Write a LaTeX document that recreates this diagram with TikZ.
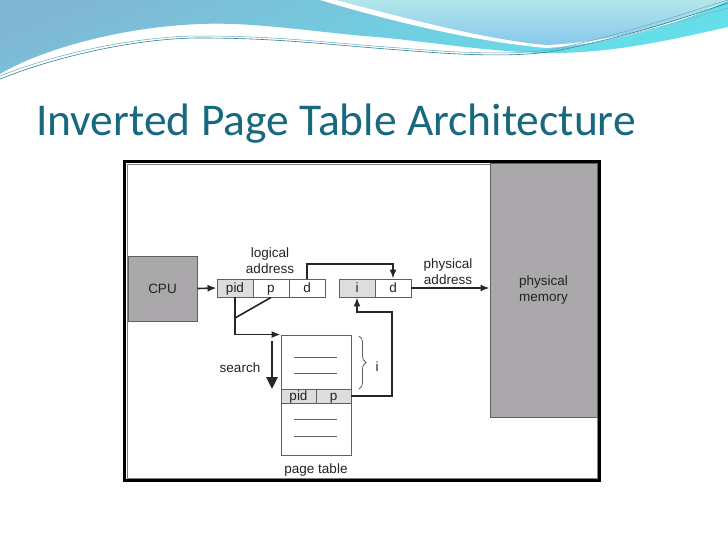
\documentclass[tikz,border=0pt]{standalone}
\usepackage{fontspec}
\setmainfont{Liberation Sans}
\newfontfamily\titlefont{Carlito}
\usetikzlibrary{arrows.meta,decorations.pathreplacing,calc}
\definecolor{titleteal}{RGB}{24,104,128}
\definecolor{boxgray}{RGB}{170,168,171}
\definecolor{cellgray}{RGB}{222,220,222}
\definecolor{edgegray}{RGB}{95,95,95}
\definecolor{txtgray}{RGB}{35,35,35}
\definecolor{wavetop}{RGB}{128,184,212}
\definecolor{wavebot}{RGB}{98,226,236}
\definecolor{lighttop}{RGB}{178,230,234}
\definecolor{lightbot}{RGB}{136,200,236}
\definecolor{waveline}{RGB}{40,130,150}
\tikzset{
  bigbox/.style={draw=edgegray,line width=1pt,fill=boxgray,inner sep=0pt,font=\fontsize{13.5}{16}\selectfont,text=txtgray,align=center},
  cellbox/.style={draw=edgegray,line width=0.9pt,fill=white,inner sep=0pt,minimum height=18pt,minimum width=36pt,text height=10pt,text depth=2pt,font=\fontsize{13.5}{16}\selectfont,text=txtgray},
  shadecell/.style={cellbox,fill=cellgray},
  lbl/.style={font=\fontsize{13.5}{16}\selectfont,text=txtgray,align=center,inner sep=0pt},
  conn/.style={line width=1.6pt,draw=black!85},
  arr/.style={conn,-{Latex[length=9pt,width=7pt]}}
}
\begin{document}
\begin{tikzpicture}[x=1pt,y=-1pt]
\useasboundingbox (0,0) rectangle (728,546);
\fill[white] (0,0) rectangle (728,546);
% top wave decoration
\shade[top color=wavetop,bottom color=wavebot,shading angle=20]
  (0,0) -- (728,0) -- (728,27)
  .. controls (650,45) and (600,54) .. (540,53)
  .. controls (470,50) and (420,40) .. (364,36)
  .. controls (300,30) and (250,22) .. (200,24)
  .. controls (120,27) and (40,50) .. (0,74) -- cycle;
\fill[white] (320,0) .. controls (400,24) and (480,42) .. (546,48)
  .. controls (620,43) and (690,20) .. (728,0) -- cycle;
\shade[top color=lighttop,bottom color=lightbot]
  (336,0) .. controls (420,22) and (490,40) .. (546,45)
  .. controls (620,42) and (690,18) .. (728,0) -- cycle;
\draw[waveline,line width=0.6pt] (0,79) .. controls (60,55) and (140,38) .. (200,38)
  .. controls (280,38) and (330,45) .. (400,50) .. controls (460,55) and (520,58) .. (560,50)
  .. controls (640,34) and (700,12) .. (728,3);
\draw[waveline!70,line width=0.5pt] (0,76) .. controls (60,52) and (140,36) .. (200,36)
  .. controls (280,36) and (330,43) .. (400,48) .. controls (460,53) and (520,56) .. (560,48)
  .. controls (640,30) and (700,8) .. (728,0);
\draw[waveline!60,line width=0.5pt] (545,52) .. controls (620,40) and (690,18) .. (728,8);
% title
\node[anchor=base west,inner sep=0pt,text=titleteal,font=\titlefont\fontsize{45.5}{52}\selectfont] (title) at (36,135) {Inverted Page Table Architecture};
% frame
\draw[black,line width=3pt] (124.5,161.5) rectangle (599.5,480.5);
\draw[gray,line width=0.6pt] (126.8,163.8) rectangle (597.2,478.2);
% boxes
\node[bigbox,minimum width=69pt,minimum height=65pt] (cpu) at (162.5,288.5) {CPU};
\node[bigbox,minimum width=107pt,minimum height=254pt] (mem) at (543.5,290) {physical\\memory};
\node[shadecell] (pid) at (235,288) {pid};
\node[cellbox] (p) at (271,288) {p};
\node[cellbox] (d) at (307,288) {d};
\node[shadecell] (i) at (357,288) {i};
\node[cellbox] (d2) at (393,288) {d};
\node[draw=edgegray,line width=0.9pt,fill=white,minimum width=70pt,minimum height=120pt,inner sep=0pt] (pt) at (316,395) {};
\node[shadecell,minimum width=35pt,minimum height=14pt] (ptpid) at (298.5,396) {pid};
\node[shadecell,minimum width=35pt,minimum height=14pt] (ptp) at (333.5,396) {p};
\draw[edgegray,line width=0.8pt] (294,357) -- (337,357) (294,373) -- (337,373)
  (294,419) -- (337,419) (294,436) -- (337,436);
% labels
\node[lbl] (lab1) at (270,261) {logical\\address};
\node[lbl] (lab2) at (448,271.5) {physical\\address};
\node[lbl] (lab3) at (240,368) {search};
\node[lbl] (lab4) at (377,367) {i};
\node[lbl] (lab5) at (316,470) {page table};
% connectors
\draw[arr] (cpu.east) -- (pid.west);
\draw[arr] (d.north) |- (350,264) -| (d2.north);
\draw[arr] (d2.east) -- (mem.west |- d2.east);
\coordinate (bend) at (pid.south |- 0,318);
\draw[arr] (pid.south) |- (pt.north west);
\draw[conn] (p.south) -- (bend);
\draw[line width=2.6pt,draw=black!85,-{Triangle[length=12pt,width=11pt]}] (272,341) -- (272,389);
\draw[line width=0.8pt,edgegray,decorate,decoration={brace,amplitude=7pt}] (359,336) -- (359,389);
\coordinate (c1) at (392,312);
\draw[arr] (ptp.east) -| (c1) -| (i.south);
\end{tikzpicture}
\end{document}
